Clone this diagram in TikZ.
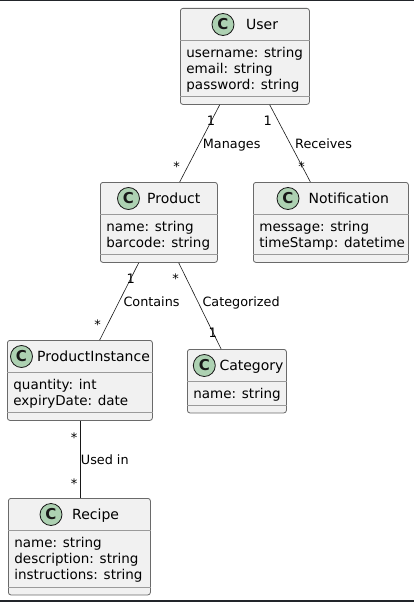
\documentclass[tikz,border=0pt]{standalone}
\usepackage{fontspec}
\setmainfont{DejaVu Sans}
\definecolor{umlline}{HTML}{181818}
\definecolor{umlborder}{HTML}{6A6A6A}
\definecolor{umlsep}{HTML}{9A9A9A}
\definecolor{umlfill}{HTML}{F1F1F1}
\definecolor{umlspot}{HTML}{ADD1B2}
\definecolor{edgebar}{HTML}{22252A}
\tikzset{
  classbox/.style={draw=umlborder, fill=umlfill, line width=0.8pt, rounded corners=2.5pt, inner sep=0pt},
  sepline/.style={draw=umlsep, line width=1pt},
  spot/.style={circle, draw=umlline, fill=umlspot, line width=0.8pt, minimum size=22pt, inner sep=0pt, font=\fontsize{15}{15}\selectfont\bfseries, text=umlline},
  classname/.style={inner sep=0pt, font=\fontsize{14}{16}\selectfont, text=black},
  attr/.style={inner sep=0pt, font=\fontsize{13.5}{16}\selectfont, text=black},
  assoc/.style={draw=umlline, line width=0.6pt},
  elabel/.style={inner sep=0pt, font=\fontsize{12.8}{15}\selectfont, text=black, anchor=base west},
  mult/.style={inner sep=0pt, font=\fontsize{13}{15}\selectfont, text=black, anchor=base},
}
% #1 id, #2 left, #3 top, #4 width, #5 height, #6 spot dx, #7 name dx, #8 title, #9 attributes
\newcommand\umlclass[9]{%
  \node[classbox, minimum width=#4pt, minimum height=#5pt, anchor=north west] (#1) at (#2,#3) {};
  \node[spot] (#1-spot) at (#2+#6,#3+16.5) {C};
  \node[classname, anchor=base west] (#1-name) at (#2+#7,#3+21.5) {#8};
  \draw[sepline] ([yshift=-32.5pt]#1.north west) -- ([yshift=-32.5pt]#1.north east);
  \draw[sepline] ([yshift=8pt]#1.south west) -- ([yshift=8pt]#1.south east);
  \foreach \attrtext [count=\i] in {#9}
    \node[attr, anchor=base west] (#1-a\i) at (#2+6.2, #3+49.3+16.2*\i-16.2) {\attrtext};
}
\begin{document}
\begin{tikzpicture}[x=1pt,y=-1pt]
\useasboundingbox (0,0) rectangle (414,602);
\fill[white] (0,0) rectangle (414,602);
\fill[edgebar] (0,0) rectangle (414,1);
\fill[edgebar] (0,600) rectangle (414,602);

\umlclass{user}{180}{8}{129}{96}{43}{66}{User}{username: string, email: string, password: string}
\umlclass{product}{100}{182}{117}{80}{28.5}{47}{Product}{name: string, barcode: string}
\umlclass{notification}{253}{182}{155}{80}{35}{55.5}{Notification}{message: string, timeStamp: datetime}
\umlclass{pinst}{7}{340}{145}{80}{14.5}{30}{ProductInstance}{quantity: int, expiryDate: date}
\umlclass{category}{187}{349}{99}{63.5}{17.3}{32.3}{Category}{name: string}
\umlclass{recipe}{8}{498}{142}{96.5}{43}{64}{Recipe}{name: string, description: string, instructions: string}

% associations
\draw[assoc] ([xshift=-25.2pt]user.south) -- ([xshift=20.8pt]product.north);
\draw[assoc] ([xshift=24.8pt]user.south) -- ([xshift=-20.5pt]notification.north);
\draw[assoc] ([xshift=-20.2pt]product.south) -- ([xshift=19.8pt]pinst.north);
\draw[assoc] ([xshift=19.8pt]product.south) -- ([xshift=-15.8pt]category.north);
\draw[assoc] (pinst.south) -- (pinst.south |- recipe.north);

% labels
\node[elabel] (l-manages) at (202.7,148.3) {Manages};
\node[elabel] (l-receives) at (295,148.3) {Receives};
\node[elabel] (l-contains) at (123.3,306) {Contains};
\node[elabel] (l-categorized) at (202.3,306) {Categorized};
\node[elabel] (l-usedin) at (80.7,464) {Used in};

% multiplicities
\node[mult] (m1) at (211,125) {1};
\node[mult] (m2) at (176.7,171.5) {*};
\node[mult] (m3) at (267.7,125) {1};
\node[mult] (m4) at (301.7,171.5) {*};
\node[mult] (m5) at (130.7,283.3) {1};
\node[mult] (m6) at (97.7,329.5) {*};
\node[mult] (m7) at (175.7,283.5) {*};
\node[mult] (m8) at (212.7,337.3) {1};
\node[mult] (m9) at (74,442) {*};
\node[mult] (m10) at (74,488) {*};
\end{tikzpicture}
\end{document}
